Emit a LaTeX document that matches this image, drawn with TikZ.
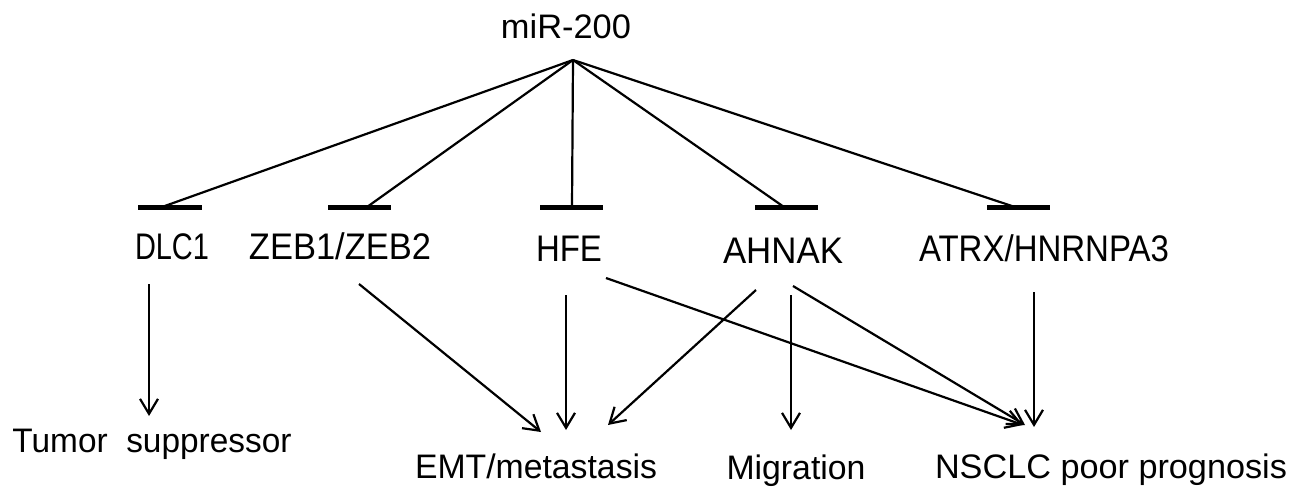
\documentclass[tikz,border=0pt]{standalone}
\usepackage{fontspec}
\setmainfont{Liberation Sans}
\usetikzlibrary{arrows.meta}
\newcommand{\lblw}[2]{\resizebox{#1pt}{\height}{#2}}
\begin{document}
\begin{tikzpicture}[x=1pt,y=-1pt,
  lab/.style={inner sep=0pt, anchor=base, font=\fontsize{34}{40}\selectfont},
  midlab/.style={inner sep=0pt, anchor=base, font=\fontsize{37}{42}\selectfont},
  link/.style={line width=2.2pt},
  inhbar/.style={line width=5pt},
  act/.style={line width=2.2pt, -{Straight Barb[length=15pt,width=18pt,line width=2.2pt]}}]
\useasboundingbox[fill=white] (0,0) rectangle (1299,500);

% labels
\node[lab] (mir) at (566,39) {\lblw{130}{miR-200}};
\node[midlab] (dlc) at (172,259) {\lblw{74}{DLC1}};
\node[midlab] (zeb) at (340,259) {\lblw{182}{ZEB1/ZEB2}};
\node[midlab] (hfe) at (569,261) {\lblw{66}{HFE}};
\node[midlab] (ahnak) at (783,263) {\lblw{120}{AHNAK}};
\node[midlab] (atrx) at (1044,261) {\lblw{250}{ATRX/HNRNPA3}};
\node[lab] (tumor) at (152,452) {\lblw{279}{Tumor~ suppressor}};
\node[lab] (emt) at (536,478) {\lblw{242}{EMT/metastasis}};
\node[lab] (mig) at (796,479) {\lblw{139}{Migration}};
\node[lab] (nsclc) at (1111,478) {\lblw{352}{NSCLC poor prognosis}};

% inhibition
\coordinate (v) at (573,60);
\coordinate (hdlc) at (162,207);
\coordinate (hzeb) at (367,207);
\coordinate (hhfe) at (572,207);
\coordinate (hahn) at (784,207);
\coordinate (hatr) at (1015,207);
\foreach \h in {hdlc,hzeb,hhfe,hahn,hatr} \draw[link] (v) -- (\h);
\draw[inhbar] (138,207) -- (202,207);
\draw[inhbar] (328,207) -- (391,207);
\draw[inhbar] (540,207) -- (603,207);
\draw[inhbar] (755,207) -- (818,207);
\draw[inhbar] (987,207) -- (1050,207);

% activation arrows
\coordinate (dlcS) at (149,284);   \coordinate (tumN) at (149,416);
\coordinate (zebS) at (359,284);   \coordinate (emtA) at (541,432);
\coordinate (hfeS) at (566,295);   \coordinate (emtB) at (566,430);
\coordinate (ahnS1) at (756,290);  \coordinate (emtC) at (608,425);
\coordinate (hfeS2) at (606,278);  \coordinate (nsA) at (1023,425);
\coordinate (ahnS2) at (791,295);  \coordinate (migN) at (791,430);
\coordinate (ahnS3) at (793,286);  \coordinate (nsB) at (1025,425);
\coordinate (atrS) at (1034,292);  \coordinate (nsC) at (1034,427);
\draw[act] (dlcS) -- (tumN);
\draw[act] (zebS) -- (emtA);
\draw[act] (hfeS) -- (emtB);
\draw[act] (ahnS1) -- (emtC);
\draw[act] (hfeS2) -- (nsA);
\draw[act] (ahnS2) -- (migN);
\draw[act] (ahnS3) -- (nsB);
\draw[act] (atrS) -- (nsC);
\end{tikzpicture}
\end{document}
